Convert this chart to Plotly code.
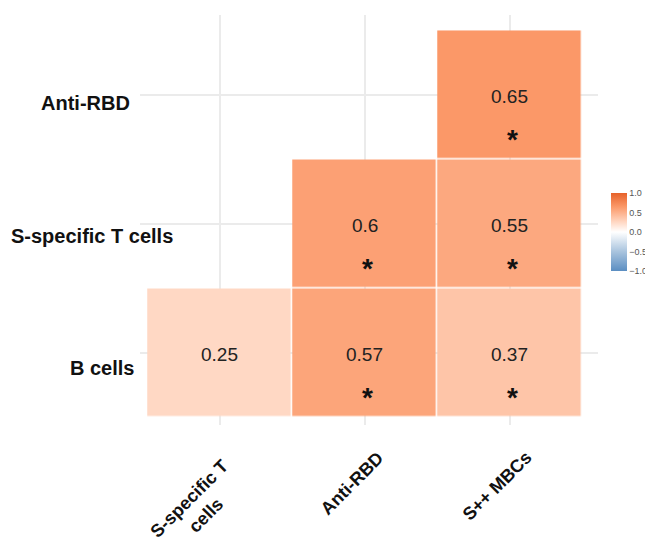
import plotly.graph_objects as go

# ---- data ----
col_labels = ["S-specific T<br>cells", "Anti-RBD", "S++ MBCs"]
row_labels = ["B cells", "S-specific T cells", "Anti-RBD"]  # bottom -> top
# correlation values (None = hidden upper triangle)
corr = [
    [0.25, 0.57, 0.37],   # B cells
    [None, 0.60, 0.55],   # S-specific T cells
    [None, None, 0.65],   # Anti-RBD
]
signif = [
    [False, True, True],
    [False, True, True],
    [False, False, True],
]
cbar_ticks = [-1.0, -0.5, 0.0, 0.5, 1.0]

# style: pixel offsets of the axis labels
row_label_xshift = [10, 0, -6]
row_label_yshift = [-15, -12, -8]
col_label_xshift = [32, 26, 29]
col_label_yshift = [-28, -20, -20]

colorscale = [
    [0.0, "#5B8EC2"],
    [0.25, "#A9C4DE"],
    [0.5, "#FFFFFF"],
    [0.625, "#FFD8C4"],
    [0.825, "#FB9868"],
    [1.0, "#E6622A"],
]

xs = list(range(len(col_labels)))
ys = list(range(len(row_labels)))

fig = go.Figure()
fig.add_trace(go.Heatmap(
    x=xs, y=ys, z=corr,
    zmin=-1, zmax=1,
    colorscale=colorscale,
    xgap=1.5, ygap=1.5,
    hoverinfo="skip",
    colorbar=dict(
        x=1.028, xanchor="left", xpad=0,
        y=0.471, yanchor="middle", ypad=0,
        len=78, lenmode="pixels",
        thickness=16, thicknessmode="pixels",
        outlinewidth=0,
        tickvals=cbar_ticks,
        tickformat=".1f",
        ticks="",
        tickfont=dict(size=9, color="#555555", family="Liberation Sans"),
    ),
))

annotations = []
for i, row in enumerate(corr):
    for j, v in enumerate(row):
        if v is None:
            continue
        annotations.append(dict(
            x=xs[j], y=ys[i], xref="x", yref="y",
            text=f"{v:g}", showarrow=False,
            font=dict(size=19, color="#222222", family="Liberation Sans"),
            yshift=-2,
        ))
        if signif[i][j]:
            annotations.append(dict(
                x=xs[j], y=ys[i], xref="x", yref="y",
                text="<b>*</b>", showarrow=False,
                font=dict(size=28, color="#111111", family="Liberation Sans"),
                yshift=-45, xshift=3,
            ))

# row labels (centered block to the left of the panel)
for k, lab in enumerate(row_labels):
    annotations.append(dict(
        x=-0.105, y=ys[k], xref="paper", yref="y",
        text=f"<b>{lab}</b>", showarrow=False, xanchor="center",
        font=dict(size=20, color="#111111", family="Liberation Sans"),
        yshift=row_label_yshift[k], xshift=row_label_xshift[k],
    ))

# column labels, rotated 45 degrees, centre-aligned lines
for k, lab in enumerate(col_labels):
    annotations.append(dict(
        x=xs[k], y=0, xref="x", yref="paper",
        text=f"<b>{lab}</b>", showarrow=False, textangle=-45,
        xanchor="right", yanchor="top", align="center",
        font=dict(size=18, color="#111111", family="Liberation Sans"),
        xshift=col_label_xshift[k], yshift=col_label_yshift[k],
    ))

fig.update_layout(
    width=645, height=538,
    margin=dict(l=132, r=55, t=7, b=121, autoexpand=False),
    paper_bgcolor="white", plot_bgcolor="white",
    annotations=annotations,
    showlegend=False,
)
fig.update_xaxes(
    range=[-0.55, 2.61],
    tickvals=xs, showticklabels=False,
    showgrid=True, gridcolor="#EBEBEB", gridwidth=1.5,
    zeroline=False, showline=False, ticks="", automargin=False,
)
fig.update_yaxes(
    range=[-0.56, 2.62],
    tickvals=ys, showticklabels=False,
    showgrid=True, gridcolor="#EBEBEB", gridwidth=1.5,
    zeroline=False, showline=False, ticks="", automargin=False,
)

fig.write_html("out.html")
